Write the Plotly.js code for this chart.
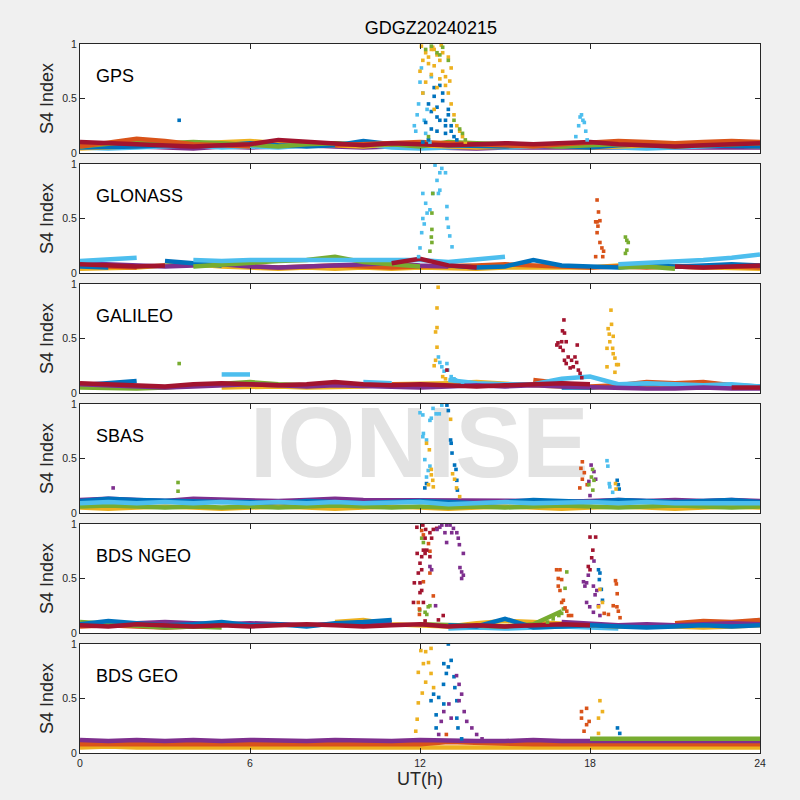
<!DOCTYPE html>
<html><head><meta charset="utf-8">
<script src="https://cdn.plot.ly/plotly-3.0.1.min.js"></script>
<style>html,body{margin:0;padding:0;background:#f0f0f0;}#chart{width:800px;height:800px;}</style>
</head><body><div id="chart"></div>
<script>
const HOURS = [0,1,2,3,4,5,6,7,8,9,10,11,12,13,14,15,16,17,18,19,20,21,22,23,24];
const PANEL_LABELS = ['GPS','GLONASS','GALILEO','SBAS','BDS NGEO','BDS GEO'];
const X_TICKS = [0,6,12,18,24];
const Y_TICKS = [0,0.5,1];
const Y_TICK_TEXT = ['0','0.5','1'];
const COLORS = {B:'#0072BD',O:'#D95319',Y:'#EDB120',P:'#7E2F8E',G:'#77AC30',L:'#4DBEEE',R:'#A2142F'};

// ---------- GPS baselines ----------
const gpsB = [0.05,0.05,0.06,0.07,0.08,0.07,0.09,0.07,0.06,0.07,0.11,0.08,0.09,0.07,0.06,0.06,0.07,0.06,0.05,0.07,0.08,0.09,0.07,0.06,0.06];
const gpsO = [0.06,0.10,0.13,0.11,0.08,0.07,0.06,null,null,0.07,0.08,0.09,0.10,0.09,0.08,0.07,0.06,0.08,0.10,0.11,0.10,0.09,0.10,0.11,0.10];
const gpsY = [0.04,0.05,0.07,0.08,0.09,0.10,0.11,0.09,0.08,0.07,0.06,0.08,0.07,0.06,0.05,0.06,0.07,0.06,0.05,0.06,0.07,0.08,0.09,0.07,0.06];
const gpsP = [0.08,0.07,0.06,0.05,0.04,0.06,0.05,0.06,0.07,0.06,0.05,0.06,0.05,0.04,0.04,0.05,0.05,0.04,0.04,0.04,0.04,0.05,0.04,0.04,0.05];
const gpsG = [0.06,0.09,0.11,0.09,0.10,0.09,0.07,0.06,0.08,0.09,0.07,0.08,0.06,0.10,0.09,0.08,0.07,0.06,0.07,0.08,0.07,0.06,0.07,0.08,0.09];
const gpsL = [0.05,0.04,0.05,0.06,0.07,0.05,0.06,0.05,0.07,0.09,0.08,0.05,0.04,0.05,0.06,0.05,0.06,0.07,0.06,0.05,0.04,0.05,0.06,0.07,0.08];
const gpsR = [0.10,0.09,0.08,0.07,0.06,0.07,0.08,0.12,0.10,0.08,0.07,0.09,0.08,0.07,0.08,0.09,0.08,0.09,0.10,0.08,0.07,0.06,0.07,0.08,0.09];
// GPS scintillation points
const gpsYx = [12.0,12.1,12.2,12.3,12.4,12.5,12.6,12.7,12.8,12.9,13.0,13.1,12.2,12.4,12.6,12.8,13.0,12.3,12.5,12.7,12.9,13.1,13.2,13.3,13.4,13.5,13.6,12.1,12.5,12.05,12.45,12.75,13.05];
const gpsYy = [0.75,0.85,0.92,0.88,0.95,0.80,0.90,0.85,0.92,0.70,0.88,0.78,0.65,0.72,0.60,0.75,0.55,0.82,0.95,0.68,0.62,0.45,0.35,0.25,0.20,0.15,0.10,0.55,0.40,0.98,0.97,0.99,0.66];
const gpsBx = [3.5,12.1,12.3,12.4,12.5,12.6,12.7,12.8,12.9,13.0,13.1,12.2,12.4,12.6,12.8,13.0,13.2,12.5,12.7,12.9,13.1,12.3,12.6,12.9,13.3];
const gpsBy = [0.30,0.10,0.45,0.38,0.52,0.42,0.30,0.55,0.25,0.35,0.20,0.28,0.22,0.33,0.48,0.40,0.15,0.60,0.62,0.18,0.25,0.12,0.20,0.30,0.12];
const gpsLx = [11.8,11.85,11.9,11.95,12.0,12.05,12.1,12.15,12.2,12.25,12.3,12.35,12.4,17.5,17.6,17.65,17.7,17.75,17.8,17.85,17.9];
const gpsLy = [0.25,0.20,0.35,0.45,0.65,0.78,0.55,0.30,0.18,0.40,0.12,0.10,0.70,0.15,0.25,0.33,0.35,0.30,0.28,0.20,0.12];
const gpsGx = [12.2,12.4,12.6,12.8,13.0,12.7,13.2,13.4,13.5,13.6,12.3];
const gpsGy = [0.95,0.98,0.92,0.97,0.85,0.90,0.30,0.22,0.18,0.12,0.15];

// ---------- GLONASS ----------
const gloL = [0.11,0.13,0.14,null,0.12,0.11,0.12,0.12,0.13,0.12,0.12,0.13,0.12,0.10,0.13,0.15,null,null,null,0.08,0.09,0.10,0.12,0.14,0.17];
const gloR = [0.08,0.07,0.06,0.07,null,null,null,null,null,null,null,0.09,0.13,0.07,0.05,null,null,null,null,null,null,0.06,0.05,0.06,0.07];
const gloB = [0.06,0.05,null,0.11,0.09,0.07,null,null,null,null,null,null,null,0.07,0.05,0.06,0.12,0.07,0.06,0.05,0.07,0.06,0.07,0.08,0.07];
const gloY = [0.04,0.04,0.05,0.07,0.08,0.06,0.05,0.04,0.05,0.04,0.05,0.04,0.05,0.04,0.04,0.05,0.05,0.06,0.05,0.07,0.08,0.06,0.05,0.04,0.04];
const gloP = [0.09,0.08,0.07,0.06,0.07,0.08,0.06,0.05,0.06,0.07,0.08,0.09,0.07,0.06,null,null,null,null,null,null,null,null,null,null,null];
const gloO = [0.07,0.06,0.05,null,null,null,0.06,0.05,0.06,0.07,0.06,0.05,0.06,0.06,0.07,0.08,0.07,0.06,0.05,0.06,0.05,0.06,0.05,0.06,0.05];
const gloG = [null,null,null,null,0.06,0.08,0.09,0.11,0.12,0.15,0.10,0.08,0.06,null,null,null,null,null,null,0.05,0.06,0.04,null,null,null];
const gloLx = [12.53,12.77,12.1,12.2,12.25,12.1,12.06,12.0,12.35,12.45,12.6,12.7,12.9,12.95,12.95,13.0,13.05,13.13,12.65,12.7,11.95,12.15];
const gloLy = [0.99,0.96,0.73,0.64,0.55,0.50,0.37,0.23,0.58,0.73,0.85,0.92,0.92,0.61,0.50,0.42,0.34,0.24,0.73,0.76,0.15,0.45];
const gloGx = [12.45,12.42,12.42,12.35,12.42,12.40,19.25,19.3,19.35,19.3,19.25];
const gloGy = [0.73,0.55,0.40,0.20,0.28,0.33,0.33,0.30,0.28,0.21,0.18];
const gloOx = [18.25,18.3,18.25,18.28,18.25,18.35,18.42,18.48,18.45,18.2,18.35,18.2];
const gloOy = [0.67,0.56,0.47,0.43,0.37,0.28,0.23,0.20,0.15,0.47,0.48,0.15];

// ---------- GALILEO ----------
const galB = [0.07,0.09,0.11,null,null,null,null,null,null,null,null,null,null,null,null,null,null,0.05,0.05,0.07,0.09,0.08,0.09,0.07,0.06];
const galO = [0.06,0.05,null,null,null,null,null,null,null,null,null,0.08,0.07,null,null,null,0.12,0.09,0.06,0.07,0.10,0.09,0.10,0.07,0.05];
const galY = [null,null,null,null,null,0.05,0.06,0.06,0.05,0.05,0.06,0.08,0.08,0.09,0.10,0.08,0.07,0.06,0.05,0.06,0.06,0.05,0.05,0.05,0.05];
const galP = [0.08,0.07,0.06,0.05,0.06,0.07,0.08,0.07,0.06,0.07,0.06,0.05,0.05,0.06,0.07,0.06,0.07,0.06,0.05,0.05,0.04,0.04,0.05,0.04,0.04];
const galG = [0.05,0.04,0.04,0.05,0.07,0.09,0.10,0.08,0.07,null,null,null,null,null,null,null,null,null,null,null,null,null,null,null,null];
const galL = [null,null,null,null,null,0.17,0.17,null,null,null,0.10,0.09,null,0.12,0.09,0.08,0.08,0.13,0.15,0.08,0.09,0.08,0.07,0.08,0.06];
const galR = [0.09,0.08,0.07,0.06,0.08,0.09,0.08,0.07,0.08,0.10,0.08,0.07,0.08,0.07,0.06,0.07,0.08,0.09,0.08,null,null,null,null,0.05,0.05];
const galYx = [12.64,12.6,12.6,12.55,12.6,12.55,12.5,12.8,12.9,18.74,18.76,18.64,18.68,18.82,18.7,18.6,18.8,18.82,18.88,18.94,19.0,18.6,18.88];
const galYy = [0.97,0.78,0.60,0.56,0.42,0.30,0.25,0.15,0.13,0.76,0.63,0.59,0.54,0.52,0.47,0.41,0.41,0.36,0.32,0.26,0.26,0.24,0.19];
const galLx = [12.65,12.77,12.95,12.98,13.1,13.2,13.25,12.7,12.85,13.35,13.5];
const galLy = [0.33,0.24,0.27,0.21,0.15,0.13,0.12,0.28,0.20,0.11,0.10];
const galRx = [17.08,17.03,17.1,16.87,17.0,16.95,16.83,17.05,17.16,17.23,17.35,17.47,17.53,17.41,17.3,17.59,17.65,17.71,17.55,17.16,17.1,12.95];
const galRy = [0.67,0.57,0.55,0.46,0.47,0.42,0.44,0.39,0.47,0.33,0.30,0.33,0.28,0.24,0.23,0.21,0.18,0.14,0.44,0.27,0.30,0.21];
const galGx = [3.5];
const galGy = [0.27];

// ---------- SBAS ----------
const sbB = [0.11,0.13,0.12,0.11,0.10,0.10,0.10,0.09,0.11,0.10,0.09,0.10,0.11,0.10,0.09,0.10,0.12,0.11,0.10,0.12,0.11,0.10,0.11,0.12,0.10];
const sbP = [0.12,0.13,0.12,0.11,0.13,0.12,0.12,0.11,0.12,0.13,0.12,0.12,0.12,0.11,0.11,0.11,0.11,0.10,0.11,0.12,0.11,0.12,0.11,0.12,0.11];
const sbG = [0.06,0.07,0.06,0.05,0.06,0.05,0.06,0.05,0.06,0.07,0.06,0.05,0.06,0.05,0.06,0.05,0.06,0.07,0.06,0.05,0.06,0.07,0.06,0.05,0.06];
const sbY = [0.05,0.04,0.05,0.06,0.05,0.04,0.05,0.06,0.05,0.04,0.05,0.06,0.05,0.04,0.05,0.06,0.05,0.04,0.05,0.06,0.05,0.04,0.05,0.06,0.05];
const sbL = [0.09,0.10,0.09,0.10,0.09,0.10,0.09,0.10,0.09,0.10,0.09,0.09,0.10,0.08,0.09,0.10,0.09,0.10,0.10,0.09,0.10,0.09,0.09,0.10,0.09];
const sbLx = [12.0,12.1,12.46,12.77,12.57,12.68,12.35,12.12,12.23,12.17,12.29,12.23,12.35,12.1,12.4,18.6,18.63,18.68,18.7,18.8];
const sbLy = [0.92,0.90,0.96,0.99,0.91,0.91,0.85,0.73,0.67,0.49,0.39,0.33,0.43,0.70,0.87,0.48,0.43,0.27,0.24,0.19];
const sbBx = [12.95,13.0,13.1,13.13,13.22,13.27,13.3,13.32,12.17,12.23,13.08,18.96,19.0,19.03];
const sbBy = [0.99,0.94,0.64,0.55,0.44,0.40,0.30,0.21,0.23,0.27,0.67,0.30,0.26,0.22];
const sbYx = [12.23,12.33,12.4,12.45,12.47,13.08,13.15,13.22,13.29,13.4,12.4,12.3,18.9,18.92];
const sbYy = [0.64,0.58,0.40,0.30,0.24,0.86,0.36,0.31,0.23,0.15,0.35,0.26,0.27,0.22];
const sbOx = [17.73,17.68,17.8,17.73,17.64,17.9];
const sbOy = [0.47,0.41,0.37,0.31,0.23,0.26];
const sbPx = [18.04,18.14,17.96,18.2,18.0,1.17];
const sbPy = [0.44,0.38,0.29,0.31,0.16,0.23];
const sbGx = [18.09,18.05,18.14,17.96,18.1,3.46,3.46];
const sbGy = [0.40,0.33,0.30,0.26,0.21,0.28,0.20];

// ---------- BDS NGEO ----------
const ngR = [0.07,0.06,0.08,0.07,0.06,0.07,0.06,0.07,0.08,0.07,0.06,0.07,0.08,0.06,0.07,0.06,0.07,0.08,0.07,null,null,null,null,null,null];
const ngB = [0.08,0.11,0.09,0.07,0.08,0.10,0.07,0.08,0.06,0.09,0.10,0.12,null,0.07,0.06,0.13,0.05,0.06,0.07,0.06,0.05,0.06,0.07,0.06,0.07];
const ngO = [0.06,0.07,0.06,0.05,0.06,null,null,null,null,null,null,null,null,null,null,null,null,null,null,null,null,0.09,0.11,0.10,0.12];
const ngG = [0.10,0.08,0.06,0.05,0.06,0.05,null,null,null,null,null,null,0.08,0.07,0.06,0.06,0.08,0.20,null,null,null,null,null,null,0.10];
const ngY = [null,null,null,null,null,null,null,null,null,0.10,0.12,0.08,0.07,0.06,0.09,0.11,0.10,0.08,0.07,0.06,0.07,0.06,0.05,0.06,0.07];
const ngP = [null,null,0.09,0.10,0.09,0.08,0.09,0.08,0.07,0.08,0.09,0.10,null,null,null,null,null,0.10,0.08,0.07,0.08,0.07,0.08,0.09,0.08];
const ngL = [null,null,null,null,null,null,null,null,null,null,null,null,null,0.04,0.05,0.04,0.05,0.06,0.05,0.04,null,null,null,0.08,0.12];
const ngRx = [11.89,12.1,12.2,12.35,12.18,12.41,12.12,12.06,12.18,11.9,12.0,11.94,12.06,12.0,11.8,12.06,12.0,11.77,12.12,12.18,12.24,12.47,12.59,12.65,12.82,12.35,18.0,18.2,18.1,18.06,17.94,18.0];
const ngRy = [0.97,0.99,0.95,0.92,0.87,0.87,0.76,0.70,0.73,0.73,0.64,0.55,0.58,0.46,0.46,0.39,0.37,0.28,0.28,0.11,0.76,0.95,0.96,0.12,0.16,0.70,0.88,0.88,0.76,0.69,0.61,0.58];
const ngPx = [12.77,12.94,13.06,13.18,13.3,13.12,12.88,13.35,13.39,13.53,12.94,13.41,13.47,13.53,13.47,12.35,12.41,12.55,12.6,12.7,17.94,17.77,17.88,17.82,18.12,18.24,18.18,17.88,17.99,18.12,18.3,18.35,18.14];
const ngPy = [0.99,0.99,0.99,0.96,0.92,0.92,0.92,0.87,0.81,0.73,0.83,0.60,0.56,0.53,0.50,0.61,0.58,0.25,0.95,0.97,0.53,0.47,0.46,0.43,0.43,0.39,0.35,0.28,0.24,0.19,0.25,0.16,0.66];
const ngOx = [12.06,12.12,12.3,12.35,12.35,12.12,11.94,11.98,12.47,11.98,16.82,16.94,16.88,17.0,16.88,16.94,17.06,17.0,17.12,17.18,17.24,17.35,18.9,18.93,18.96,18.82,18.95,19.0,18.65,19.06,18.5];
const ngOy = [0.94,0.90,0.82,0.75,0.55,0.47,0.28,0.22,0.34,0.17,0.58,0.58,0.50,0.49,0.43,0.39,0.30,0.28,0.23,0.20,0.16,0.16,0.48,0.45,0.36,0.25,0.24,0.20,0.17,0.14,0.18];
const ngGx = [12.06,12.12,12.29,12.35,12.24,11.99,12.18,17.18,17.12,17.06,16.5,16.7,16.9,17.0];
const ngGy = [0.87,0.83,0.24,0.25,0.17,0.21,0.19,0.56,0.41,0.22,0.10,0.13,0.16,0.18];
const ngBx = [18.3,18.35,18.33,18.4,18.44];
const ngBy = [0.58,0.55,0.49,0.40,0.30];
const ngYx = [18.35,18.44,18.3];
const ngYy = [0.40,0.28,0.24];

// ---------- BDS GEO ----------
const geP = [0.12,0.11,0.12,0.11,0.12,0.11,0.12,0.11,0.11,0.12,0.11,0.11,0.12,0.11,0.11,0.11,0.12,0.11,0.11,0.11,0.11,0.10,0.11,0.10,0.11];
const geO = [0.08,0.08,0.07,0.08,0.08,0.08,0.07,0.08,0.08,0.08,0.07,0.08,0.08,0.10,0.09,0.08,0.08,0.08,0.08,0.08,0.07,0.08,0.08,0.08,0.08];
const geY = [0.05,0.06,0.05,0.05,0.06,0.05,0.05,0.06,0.05,0.05,0.06,0.05,0.05,0.06,0.05,0.05,0.06,0.05,0.05,0.06,0.05,0.05,0.06,0.05,0.05];
const geG = [null,null,null,null,null,null,null,null,null,null,null,null,null,null,null,null,null,null,0.13,0.13,0.14,0.13,0.13,0.13,0.13];
const geYx = [12.03,12.2,12.39,12.12,12.3,11.94,12.2,12.08,11.94,11.9,11.85,12.48,12.39,18.35,18.44,18.3,18.3];
const geYy = [0.94,0.93,0.96,0.82,0.83,0.74,0.65,0.55,0.46,0.31,0.20,0.60,0.73,0.48,0.38,0.32,0.18];
const geBx = [13.0,12.84,13.0,12.93,13.1,12.83,12.66,12.84,12.57,12.57,13.2,13.23,13.3,13.3,13.34,13.47,12.39,12.48,18.97,19.05];
const geBy = [1.0,0.82,0.79,0.73,0.85,0.63,0.51,0.45,0.35,0.23,0.70,0.60,0.48,0.32,0.23,0.13,0.48,0.54,0.23,0.18];
const gePx = [13.29,13.38,13.47,13.02,12.84,12.75,13.1,13.38,13.56,13.65,13.83,14.0,14.19,12.66];
const gePy = [0.71,0.63,0.54,0.45,0.38,0.29,0.32,0.48,0.38,0.29,0.23,0.17,0.13,0.17];
const geOx = [12.93,17.88,17.7,17.88,17.79,17.97,17.7];
const geOy = [0.17,0.41,0.32,0.26,0.20,0.29,0.38];

const PANELS = [
  {lines:[[gpsP,'P'],[gpsL,'L'],[gpsY,'Y'],[gpsB,'B'],[gpsG,'G'],[gpsO,'O'],[gpsR,'R']],
   pts:[[gpsLx,gpsLy,'L'],[gpsBx,gpsBy,'B'],[gpsYx,gpsYy,'Y'],[gpsGx,gpsGy,'G']]},
  {lines:[[gloY,'Y'],[gloO,'O'],[gloP,'P'],[gloB,'B'],[gloG,'G'],[gloL,'L'],[gloR,'R']],
   pts:[[gloLx,gloLy,'L'],[gloGx,gloGy,'G'],[gloOx,gloOy,'O']]},
  {lines:[[galY,'Y'],[galB,'B'],[galO,'O'],[galG,'G'],[galL,'L'],[galP,'P'],[galR,'R']],
   pts:[[galLx,galLy,'L'],[galYx,galYy,'Y'],[galRx,galRy,'R'],[galGx,galGy,'G']]},
  {lines:[[sbP,'P'],[sbB,'B'],[sbY,'Y'],[sbG,'G'],[sbL,'L']],
   pts:[[sbLx,sbLy,'L'],[sbBx,sbBy,'B'],[sbYx,sbYy,'Y'],[sbOx,sbOy,'O'],[sbPx,sbPy,'P'],[sbGx,sbGy,'G']]},
  {lines:[[ngL,'L'],[ngY,'Y'],[ngO,'O'],[ngG,'G'],[ngP,'P'],[ngB,'B'],[ngR,'R']],
   pts:[[ngGx,ngGy,'G'],[ngOx,ngOy,'O'],[ngRx,ngRy,'R'],[ngPx,ngPy,'P'],[ngBx,ngBy,'B'],[ngYx,ngYy,'Y']]},
  {lines:[[geY,'Y'],[geO,'O'],[geP,'P'],[geG,'G']],
   pts:[[geYx,geYy,'Y'],[geBx,geBy,'B'],[gePx,gePy,'P'],[geOx,geOy,'O']]}
];

const FONT = 'Liberation Sans, Arial, Helvetica, sans-serif';
const AX = '#262626';
const DOMAINS = [[0.8463,1.0],[0.6770,0.8307],[0.5078,0.6615],[0.3385,0.4922],[0.1693,0.3230],[0.0,0.1537]];

const traces = [];
// watermark (drawn first, beneath data)
traces.push({x:[11.97], y:[0.56], mode:'text', text:['IONISE'], xaxis:'x4', yaxis:'y4',
  textfont:{family:FONT, size:100, color:'#e3e3e3', weight:'bold'}, textposition:'middle center',
  hoverinfo:'skip', showlegend:false, cliponaxis:false});

PANELS.forEach((p, i) => {
  const xa = i === 0 ? 'x' : 'x' + (i + 1);
  const ya = i === 0 ? 'y' : 'y' + (i + 1);
  p.lines.forEach(([ys, c]) => {
    traces.push({x:HOURS, y:ys, mode:'lines', xaxis:xa, yaxis:ya, connectgaps:false,
      line:{color:COLORS[c], width:4.5}, showlegend:false, hoverinfo:'skip'});
  });
  p.pts.forEach(([xs, ys, c]) => {
    traces.push({x:xs, y:ys, mode:'markers', xaxis:xa, yaxis:ya,
      marker:{symbol:'square', size:3.6, color:COLORS[c], line:{width:0}}, showlegend:false, hoverinfo:'skip'});
  });
});

const layout = {
  width:800, height:800,
  paper_bgcolor:'#f0f0f0', plot_bgcolor:'#ffffff',
  margin:{l:80, r:40, t:44, b:47},
  font:{family:FONT, color:AX},
  title:{text:'GDGZ20240215', font:{family:FONT, size:18, color:'#000'}, xref:'paper', x:0.516, xanchor:'center', yref:'container', y:0.965, yanchor:'middle'},
  showlegend:false,
  annotations:[]
};

for (let i = 0; i < 6; i++) {
  const s = i === 0 ? '' : String(i + 1);
  layout['xaxis' + s] = {
    domain:[0,1], range:[0,24], tickvals:X_TICKS, ticktext:X_TICKS.map(String),
    ticks:'inside', ticklen:5, tickwidth:1, tickcolor:AX, showline:true, linecolor:AX, linewidth:1,
    mirror:'ticks', showgrid:false, zeroline:false, anchor:'y' + s, fixedrange:true,
    showticklabels: i === 5, tickfont:{size:10.5, color:AX}
  };
  if (i === 5) layout['xaxis' + s].title = {text:'UT(h)', font:{size:18, color:AX}, standoff:4};
  layout['yaxis' + s] = {
    domain:DOMAINS[i], range:[0,1], tickvals:Y_TICKS, ticktext:Y_TICK_TEXT,
    ticks:'inside', ticklen:5, tickwidth:1, tickcolor:AX, showline:true, linecolor:AX, linewidth:1,
    mirror:'ticks', showgrid:false, zeroline:false, anchor:'x' + s, fixedrange:true,
    tickfont:{size:10.5, color:AX},
    title:{text:'S4 Index', font:{size:18, color:AX}, standoff:3}
  };
  layout.annotations.push({text:PANEL_LABELS[i], xref:'x' + s, yref:'y' + s, x:0.5, y:0.705,
    xanchor:'left', yanchor:'middle', showarrow:false, font:{family:FONT, size:18, color:'#000'}});
}

Plotly.newPlot('chart', traces, layout, {staticPlot:true, displayModeBar:false});
</script>
</body></html>
